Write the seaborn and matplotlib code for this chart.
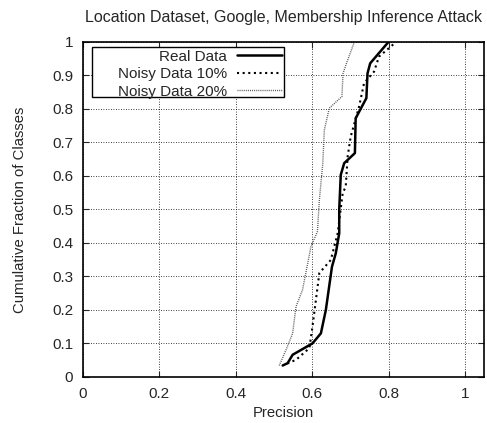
import matplotlib
matplotlib.use("Agg")
import matplotlib.pyplot as plt
from matplotlib.patches import Rectangle
import seaborn as sns
import pandas as pd

# CDF points (precision, cumulative fraction)
real_x = [0.523, 0.536, 0.549, 0.601, 0.623, 0.636, 0.652, 0.662, 0.671, 0.671,
          0.675, 0.684, 0.712, 0.714, 0.742, 0.745, 0.752, 0.800]
real_y = [0.034, 0.041, 0.066, 0.100, 0.130, 0.200, 0.329, 0.369, 0.429, 0.500,
          0.603, 0.638, 0.668, 0.772, 0.832, 0.906, 0.936, 1.000]

noisy10_x = [0.535, 0.558, 0.593, 0.601, 0.610, 0.619, 0.649, 0.667, 0.680, 0.688,
             0.693, 0.701, 0.723, 0.736, 0.762, 0.775, 0.815]
noisy10_y = [0.040, 0.051, 0.086, 0.150, 0.230, 0.310, 0.349, 0.429, 0.548, 0.568,
             0.658, 0.717, 0.807, 0.877, 0.911, 0.956, 0.995]

noisy20_x = [0.514, 0.532, 0.549, 0.558, 0.575, 0.597, 0.614, 0.619, 0.628, 0.632,
             0.645, 0.678, 0.681, 0.690, 0.710]
noisy20_y = [0.034, 0.081, 0.130, 0.210, 0.260, 0.389, 0.434, 0.528, 0.638, 0.737,
             0.802, 0.837, 0.906, 0.936, 0.998]

labels = ["Real Data", "Noisy Data 10%", "Noisy Data 20%"]
x_ticks = [0, 0.2, 0.4, 0.6, 0.8, 1]
y_ticks = [0, 0.1, 0.2, 0.3, 0.4, 0.5, 0.6, 0.7, 0.8, 0.9, 1]

sns.set_style("ticks")
plt.rcParams["font.family"] = ["Liberation Sans", "DejaVu Sans"]

fig = plt.figure(figsize=(4.87, 4.23), dpi=100)
ax = fig.add_axes([0.170, 0.109, 0.824, 0.792])

series = [(real_x, real_y), (noisy10_x, noisy10_y), (noisy20_x, noisy20_y)]
styles = [dict(color="black", lw=1.8, ls="-"),
          dict(color="black", lw=1.5, ls=(0, (1.0, 1.7))),
          dict(color="#555555", lw=1.0, ls=(0, (0.7, 0.8)))]

for (xs, ys), lab, st in zip(series, labels, styles):
    df = pd.DataFrame({"x": xs, "y": ys})
    sns.lineplot(data=df, x="x", y="y", sort=False, estimator=None, ax=ax,
                 label=lab, **st)

ax.set_xlim(0, 1.05)
ax.set_ylim(0, 1)
ax.set_xticks(x_ticks)
ax.set_xticklabels([f"{t:g}" for t in x_ticks])
ax.set_yticks(y_ticks)
ax.set_yticklabels([f"{t:g}" for t in y_ticks])
ax.grid(True, color="black", ls=(0, (1, 2)), lw=0.6)
ax.tick_params(direction="in", top=True, right=True, labelsize=11, length=4.5,
               width=0.8, pad=7)
ax.tick_params(axis="x", pad=7)
for s in ax.spines.values():
    s.set_linewidth(1.2)
    s.set_color("black")

ax.set_xlabel("Precision", fontsize=10.7, labelpad=4)
ax.set_ylabel("Cumulative Fraction of Classes", fontsize=10.7, labelpad=18)
ax.set_title("Location Dataset, Google, Membership Inference Attack",
             fontsize=11.5, pad=14)

# gnuplot style key: text right-aligned, sample to the right
leg = ax.legend(loc="upper right", bbox_to_anchor=(0.497, 0.977),
                markerfirst=False, frameon=False, fontsize=11,
                handlelength=2.95, borderpad=0, labelspacing=0.23,
                handletextpad=0.65, borderaxespad=0)
ax.add_patch(Rectangle((0.022, 0.836), 0.479, 0.149, transform=ax.transAxes,
                       facecolor="white", edgecolor="black", lw=1.0,
                       zorder=4.9))
leg.set_zorder(5)

fig.savefig("out.png", dpi=100)
